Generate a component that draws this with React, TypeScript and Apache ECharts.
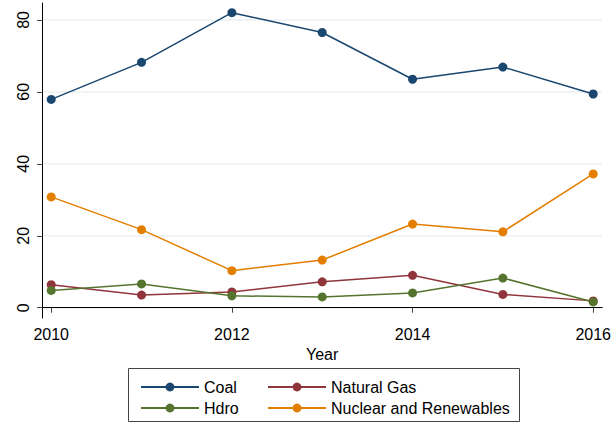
import React, { useEffect, useRef } from "react";
import * as echarts from "echarts";

const years = [2010, 2011, 2012, 2013, 2014, 2015, 2016];
const coal = [57.9, 68.2, 82.0, 76.5, 63.5, 66.9, 59.4];
const naturalGas = [6.4, 3.5, 4.4, 7.2, 9.0, 3.7, 1.9];
const hydro = [4.8, 6.6, 3.3, 3.0, 4.1, 8.25, 1.6];
const nuclear = [30.8, 21.7, 10.3, 13.25, 23.25, 21.1, 37.2];
const xTicks = [2010, 2012, 2014, 2016];
const yTicks = [0, 20, 40, 60, 80];

const seriesNames = ["Coal", "Natural Gas", "Hdro", "Nuclear and Renewables"];
const seriesColors = ["#1a476f", "#90353b", "#55752f", "#e37e00"];
const seriesValues = [coal, naturalGas, hydro, nuclear];

const FONT = "'Liberation Sans', Arial, sans-serif";

export default function App() {
  const ref = useRef<HTMLDivElement>(null);
  useEffect(() => {
    if (!ref.current) return;
    const chart = echarts.init(ref.current, null, { renderer: "svg" });
    chart.setOption({
      animation: false,
      backgroundColor: "#ffffff",
      textStyle: { fontFamily: FONT },
      grid: { left: 42, right: 8, top: 3, bottom: 105, containLabel: false },
      xAxis: {
        type: "value",
        min: 2009.898,
        max: 2016.1,
        name: "Year",
        nameLocation: "middle",
        nameGap: 25,
        nameTextStyle: { fontSize: 16, color: "#000", fontFamily: FONT },
        axisLine: { show: true, lineStyle: { color: "#000", width: 1 } },
        axisTick: { show: true, length: 5, lineStyle: { color: "#444" }, customValues: xTicks },
        axisLabel: { fontSize: 16, color: "#000", margin: 8, customValues: xTicks, formatter: (v: number) => String(v) },
        splitLine: { show: false },
      },
      yAxis: {
        type: "value",
        min: -2.86,
        max: 84.7,
        axisLine: { show: true, lineStyle: { color: "#000", width: 1 } },
        axisTick: { show: true, length: 5, lineStyle: { color: "#444" }, customValues: yTicks },
        axisLabel: { fontSize: 16, color: "#000", margin: 11, rotate: 90, customValues: yTicks },
        splitLine: { show: true, lineStyle: { color: "#eaf2f3", width: 1.5 } },
      },
      legend: [
        {
          orient: "vertical",
          left: 135,
          top: 374,
          itemWidth: 58,
          itemHeight: 11,
          itemGap: 5,
          data: [seriesNames[0], seriesNames[2]],
          textStyle: { fontSize: 16, color: "#000", fontFamily: FONT },
        },
        {
          orient: "vertical",
          left: 262,
          top: 374,
          itemWidth: 58,
          itemHeight: 11,
          itemGap: 5,
          data: [seriesNames[1], seriesNames[3]],
          textStyle: { fontSize: 16, color: "#000", fontFamily: FONT },
        },
      ],
      graphic: [
        {
          type: "rect",
          shape: { x: 128.5, y: 368.5, width: 391, height: 53 },
          style: { fill: "none", stroke: "#444", lineWidth: 1 },
          silent: true,
        },
      ],
      series: seriesNames.map((name, i) => ({
        name,
        type: "line",
        data: years.map((y, j) => [y, seriesValues[i][j]]),
        symbol: "circle",
        symbolSize: 9,
        color: seriesColors[i],
        lineStyle: { width: 1.5, color: seriesColors[i] },
        itemStyle: { color: seriesColors[i] },
      })),
    });
    return () => chart.dispose();
  }, []);
  return <div ref={ref} style={{ width: 614, height: 423, position: "absolute", left: 0, top: 0 }} />;
}
